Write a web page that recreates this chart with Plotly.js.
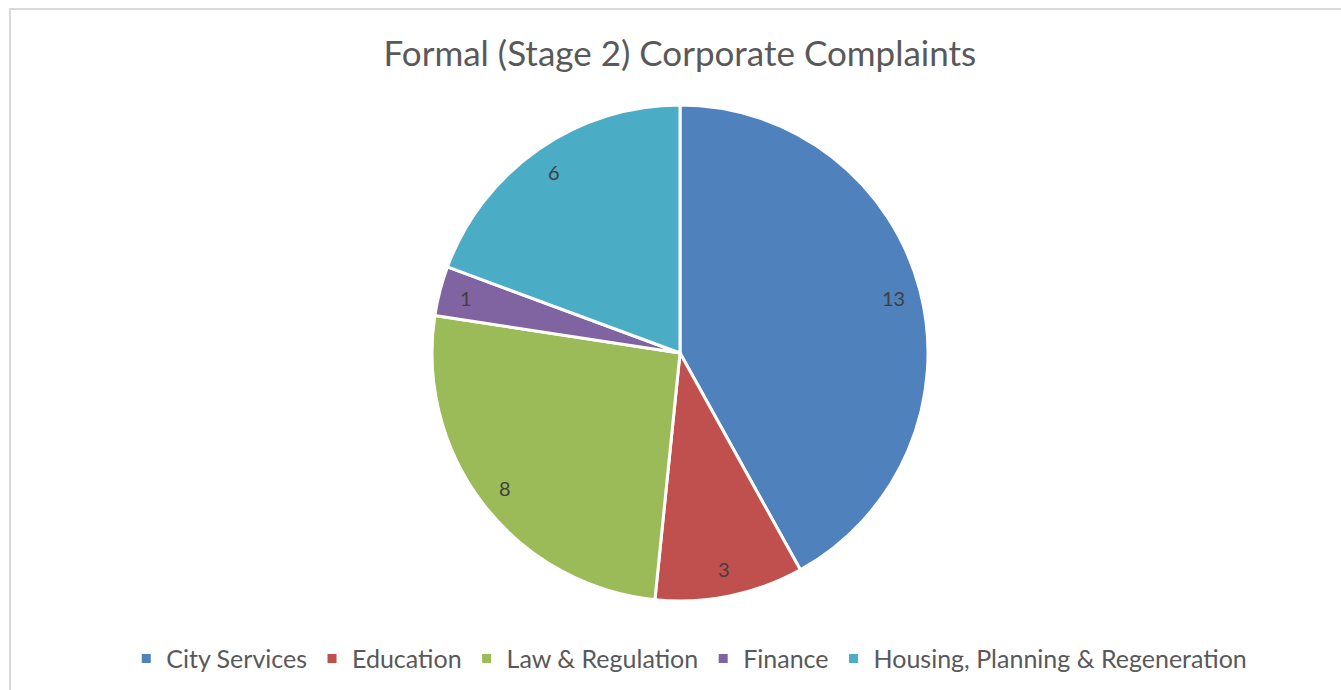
<!DOCTYPE html>
<html><head><meta charset="utf-8">
<script src="https://cdn.plot.ly/plotly-3.0.1.min.js"></script>
<style>html,body{margin:0;padding:0;background:#fff;}#wrap{position:relative;width:1341px;height:690px;}
#frame{position:absolute;left:9px;top:8px;right:-5px;bottom:-5px;border:2px solid #d9d9d9;pointer-events:none;}
#chart{position:absolute;left:0;top:0;width:1341px;height:690px;}</style>
</head><body><div id="wrap"><div id="chart"></div><div id="frame"></div></div>
<script>
const categories = ["City Services", "Education", "Law & Regulation", "Finance", "Housing, Planning & Regeneration"];
const values = [13, 3, 8, 1, 6];
const colors = ["#4F81BD", "#C0504D", "#9BBB59", "#8064A2", "#4BACC6"];
const font = "Lato, 'Open Sans', sans-serif";

const W = 1341, H = 690;
const margin = {l: 19, r: 0, t: 105, b: 89};
const pw = W - margin.l - margin.r, ph = H - margin.t - margin.b;
const radiusPx = Math.min(pw, ph) / 2;
const labelFrac = 0.89;
const total = values.reduce((a, b) => a + b, 0);
let cum = 0;
const annotations = values.map((v) => {
  const mid = (cum + v / 2) / total * 2 * Math.PI;
  cum += v;
  const dx = Math.sin(mid) * radiusPx * labelFrac;
  const dy = Math.cos(mid) * radiusPx * labelFrac;
  return {xref: 'paper', yref: 'paper', x: 0.5 + dx / pw, y: 0.5 + dy / ph,
    text: String(v), showarrow: false, xanchor: 'center', yanchor: 'middle',
    font: {family: font, size: 20, color: '#404040'}};
});

Plotly.newPlot('chart', [{
  type: 'pie', labels: categories, values: values, sort: false, direction: 'clockwise', rotation: 0,
  marker: {colors: colors, line: {color: '#ffffff', width: 3}},
  textinfo: 'none', hoverinfo: 'label+value'
}], {
  width: W, height: H,
  margin: margin,
  paper_bgcolor: '#fff',
  title: {text: 'Formal (Stage 2) Corporate Complaints', font: {family: font, size: 35, color: '#595959'}, x: 0.507, xanchor: 'center', y: 0.922, yanchor: 'middle'},
  showlegend: true,
  annotations: annotations,
  legend: {orientation: 'h', x: 0.507, xanchor: 'center', y: -0.07, yanchor: 'top', font: {family: font, size: 25, color: '#595959'}, itemwidth: 30, traceorder: 'normal'}
}, {displayModeBar: false});
</script></body></html>
